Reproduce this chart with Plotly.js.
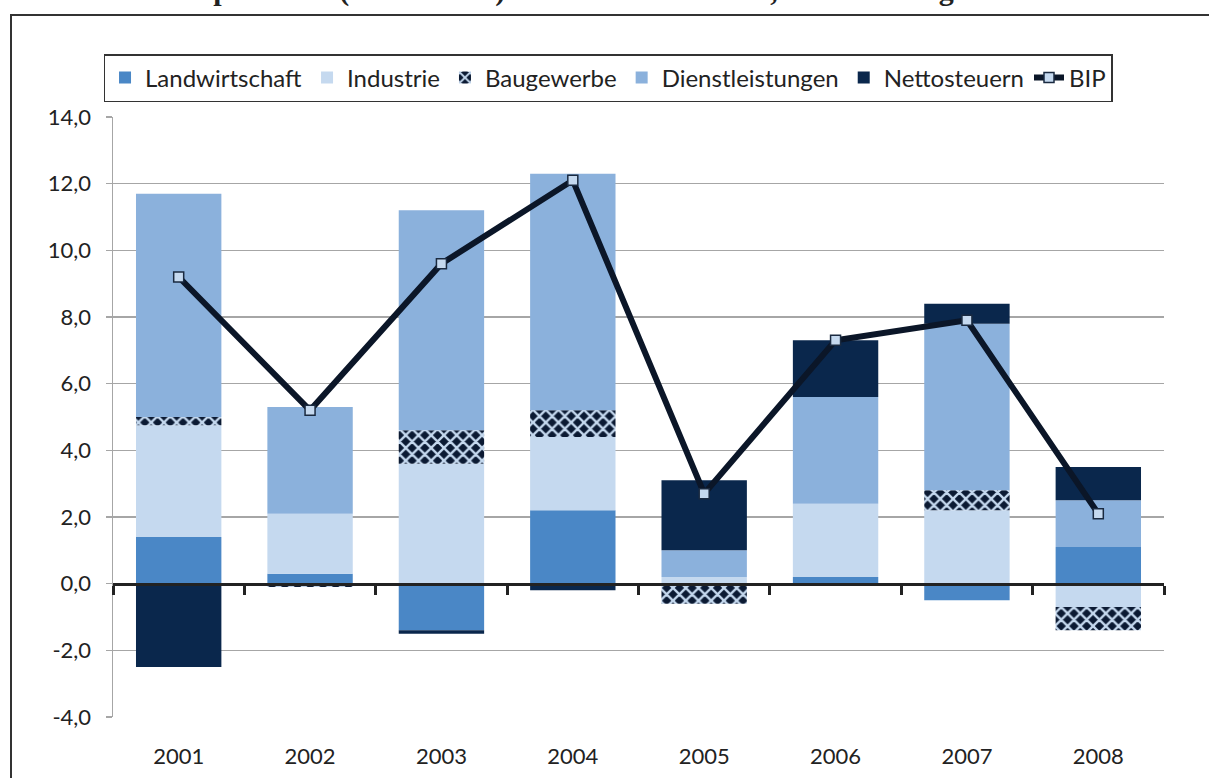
<!DOCTYPE html>
<html>
<head>
<meta charset="utf-8">
<script src="https://cdn.plot.ly/plotly-3.0.1.min.js"></script>
<style>
  body { margin: 0; background: #fff; overflow: hidden; }
  #frame { position: absolute; left: 10px; top: 14px; width: 1300px; height: 900px;
           border-left: 2px solid #333; border-top: 2px solid #333; }
  #head { position: absolute; top: -25px; left: 0; width: 1209px; height: 30px; white-space: nowrap;
          font: bold 30px/30px "Liberation Serif", serif; color: #222; }
  #head span { position: absolute; top: 0; }
  #chart { position: absolute; left: 0; top: 0; width: 1209px; height: 778px; }
</style>
</head>
<body>
<div id="frame"></div>
<div id="head"><span style="left:15px">Grafik 1:</span><span style="left:150px">Komponenten (Produktion) des BIP-Wachstums, Veränderung in %</span></div>
<div id="chart"></div>
<script>
// Beiträge zum BIP-Wachstum in Prozentpunkten
var years = ["2001", "2002", "2003", "2004", "2005", "2006", "2007", "2008"];
var landwirtschaft  = [1.4, 0.3, -1.4, 2.2, 0.0, 0.2, -0.5, 1.1];
var industrie       = [3.35, 1.8, 3.6, 2.2, 0.2, 2.2, 2.2, -0.7];
var baugewerbe      = [0.25, -0.1, 1.0, 0.8, -0.6, 0.0, 0.6, -0.7];
var dienstleistung  = [6.7, 3.2, 6.6, 7.1, 0.8, 3.2, 5.0, 1.4];
var nettosteuern    = [-2.5, 0.0, -0.1, -0.2, 2.1, 1.7, 0.6, 1.0];
var bip             = [9.2, 5.2, 9.6, 12.1, 2.7, 7.3, 7.9, 2.1];

var yTickVals = [-4, -2, 0, 2, 4, 6, 8, 10, 12, 14];
var yTickText = ["-4,0", "-2,0", "0,0", "2,0", "4,0", "6,0", "8,0", "10,0", "12,0", "14,0"];

var fontFam = "Lato, 'Open Sans', sans-serif";

function bar(name, vals, color, pattern) {
  var t = {
    type: "bar", name: name, x: years, y: vals,
    marker: { color: color, line: { width: 0 } },
    hoverinfo: "name+y"
  };
  if (pattern) t.marker.pattern = pattern;
  return t;
}

var data = [
  bar("Landwirtschaft", landwirtschaft, "#4a87c6"),
  bar("Industrie", industrie, "#c5d9ef"),
  bar("Baugewerbe", baugewerbe, "#0b1a33",
      { shape: "x", fgcolor: "#c5d9ef", bgcolor: "#0b1a33", size: 9, solidity: 0.45 }),
  bar("Dienstleistungen", dienstleistung, "#8bb1dc"),
  bar("Nettosteuern", nettosteuern, "#0a274c"),
  {
    type: "scatter", mode: "lines+markers", name: "BIP",
    x: years, y: bip, xaxis: "x2",
    line: { color: "#0b1628", width: 6 },
    marker: { symbol: "square", size: 10, color: "#c5d9ef",
              line: { color: "#1a2a40", width: 1.5 } }
  }
];

var layout = {
  width: 1209, height: 778,
  margin: { l: 113, r: 45, t: 117, b: 61 },
  paper_bgcolor: "rgba(0,0,0,0)",
  plot_bgcolor: "rgba(0,0,0,0)",
  barmode: "relative",
  bargap: 0.35,
  font: { family: fontFam, size: 22, color: "#222" },
  showlegend: true,
  legend: {
    orientation: "h", x: 0.471, xanchor: "center", y: 1.105, yanchor: "top",
    bordercolor: "#333", borderwidth: 1.5, bgcolor: "#fff",
    font: { family: fontFam, size: 24, color: "#222" },
    traceorder: "normal", itemwidth: 30
  },
  xaxis: {
    type: "category", categoryarray: years, range: [-0.5, 7.5],
    showline: false, showgrid: false, zeroline: false,
    ticks: "outside", ticklen: 20, tickcolor: "rgba(0,0,0,0)",
    tickfont: { size: 22 }
  },
  xaxis2: {
    type: "category", categoryarray: years, range: [-0.5, 7.5],
    overlaying: "x", anchor: "free", position: 4 / 18,
    showline: true, linecolor: "#222", linewidth: 3,
    ticks: "outside", tickson: "boundaries", ticklen: 9, tickwidth: 3, tickcolor: "#222",
    showticklabels: false, showgrid: false, zeroline: false
  },
  yaxis: {
    range: [-4, 14], tickvals: yTickVals, ticktext: yTickText,
    showgrid: true, gridcolor: "#a6a6a6", gridwidth: 1.5,
    zeroline: false,
    showline: true, linecolor: "#a6a6a6", linewidth: 1.5,
    ticks: "outside", ticklen: 6, tickcolor: "#a6a6a6", tickwidth: 1.5,
    ticklabelstandoff: 10,
    tickfont: { size: 22 }
  }
};

Plotly.newPlot("chart", data, layout, { displayModeBar: false, staticPlot: true });
</script>
</body>
</html>
